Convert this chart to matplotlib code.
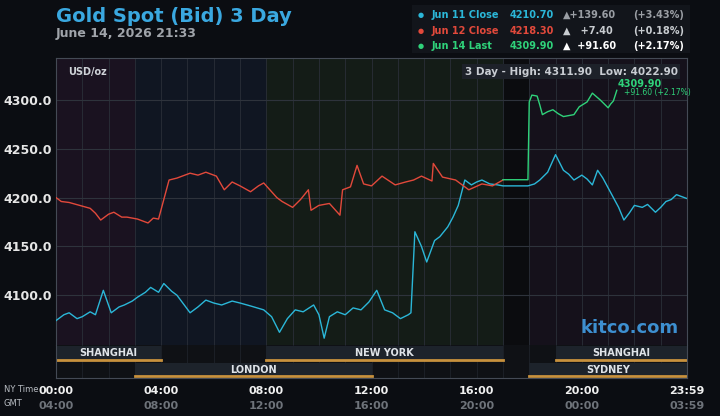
import matplotlib.pyplot as plt
from matplotlib.patches import Rectangle

# hours (NY time) and prices
jun11_h = [0, 0.3, 0.5, 0.8, 1.0, 1.3, 1.5, 1.8, 2.1, 2.4, 2.6, 2.9, 3.1, 3.4, 3.6, 3.9, 4.1, 4.4, 4.6,
           5.1, 5.4, 5.7, 6.0, 6.3, 6.7, 7.0, 7.4, 7.9, 8.2, 8.5, 8.8, 9.1, 9.4, 9.8, 10.0,
           10.2, 10.4, 10.7, 11.0, 11.3, 11.6, 11.9, 12.2, 12.5, 12.8, 13.1, 13.4, 13.5, 13.65, 13.9, 14.1,
           14.4, 14.6, 14.9, 15.1, 15.3, 15.55, 15.8, 16.0, 16.2, 16.5, 16.8, 17.0, 17.95, 18.2, 18.4,
           18.7, 19.0, 19.3, 19.5, 19.7, 20.0, 20.2, 20.4, 20.6, 20.8, 21.1, 21.4, 21.6, 21.8, 22.0,
           22.3, 22.5, 22.8, 23.0, 23.2, 23.4, 23.6, 23.8, 24.0]
jun11_v = [4074, 4080, 4082, 4076, 4078, 4083, 4080, 4105, 4082, 4088, 4090, 4094, 4098, 4103, 4108,
           4103, 4112, 4104, 4100, 4082, 4088, 4095, 4092, 4090, 4094, 4092, 4089, 4085, 4078, 4062,
           4076, 4085, 4083, 4090, 4080, 4056, 4078, 4083, 4080, 4087, 4085, 4093, 4105, 4085, 4082,
           4076, 4080, 4082, 4165, 4150, 4134, 4156, 4160, 4170, 4180, 4192, 4218, 4213, 4216, 4218,
           4214, 4213, 4212, 4212, 4214, 4218, 4226, 4244, 4228, 4224, 4218, 4223, 4219, 4213, 4228,
           4220, 4205, 4190, 4177, 4184, 4192, 4190, 4193, 4185, 4190, 4196, 4198, 4203, 4201, 4199]

jun12_h = [0, 0.2, 0.5, 0.9, 1.3, 1.5, 1.7, 2.0, 2.2, 2.5, 2.7, 3.1, 3.5, 3.7, 3.9, 4.15, 4.3, 4.6,
           5.1, 5.4, 5.7, 6.1, 6.4, 6.7, 7.0, 7.4, 7.7, 7.9, 8.2, 8.4, 8.6, 9.0, 9.3, 9.6, 9.7, 10.0,
           10.4, 10.6, 10.8, 10.9, 11.2, 11.45, 11.7, 12.0, 12.4, 12.9, 13.3, 13.6, 13.9, 14.3,
           14.35, 14.7, 15.2, 15.5, 15.7, 16.2, 16.6, 17.0]
jun12_v = [4200, 4196, 4195, 4192, 4189, 4184, 4177, 4183, 4185, 4180, 4180, 4178, 4174, 4179, 4178,
           4203, 4218, 4220, 4225, 4223, 4226, 4222, 4208, 4216, 4212, 4206, 4212, 4215, 4206, 4200,
           4196, 4190, 4198, 4208, 4187, 4192, 4194, 4188, 4182, 4208, 4211, 4233, 4214, 4212, 4222,
           4213, 4216, 4218, 4222, 4217, 4235, 4221, 4218, 4212, 4208, 4214, 4212, 4218]

jun14_h = [17.0, 17.95, 18.0, 18.1, 18.3, 18.4, 18.5, 18.7, 18.9, 19.1, 19.3, 19.7, 19.9, 20.2, 20.4,
           20.7, 21.0, 21.1, 21.2, 21.33]
jun14_v = [4218.3, 4218.3, 4298, 4305, 4304, 4295, 4285, 4288, 4290, 4286, 4283, 4285, 4293, 4298,
           4307, 4300, 4292, 4296, 4299, 4309.9]

sessions_top = [("SHANGHAI", 0, 4), ("NEW YORK", 8, 17), ("SHANGHAI", 19, 24)]
sessions_bot = [("LONDON", 3, 12), ("SYDNEY", 18, 24)]
tick_hours = [0, 4, 8, 12, 16, 20, 24]
ny_labels = ["00:00", "04:00", "08:00", "12:00", "16:00", "20:00", "23:59"]
gmt_labels = ["04:00", "08:00", "12:00", "16:00", "20:00", "00:00", "03:59"]

BG = "#0b0d12"
BLUE, RED, GREEN = "#2bb7d8", "#e2493b", "#2fd27a"

W, H = 720, 416
fig = plt.figure(figsize=(7.2, 4.16), dpi=100, facecolor=BG)
L, R = 56 / W, 687 / W
ax = fig.add_axes([L, 1 - 345 / H, R - L, (345 - 58) / H])
ax.set_facecolor("#0e1118")
ax.set_xlim(0, 24)
ax.set_ylim(4049, 4343)

# session tinted backgrounds
for a, b, c in [(0, 3, "#1a1220"), (3, 8, "#101622"), (8, 17, "#141c17"), (17, 18, "#0b0c0f"), (18, 24, "#15111b")]:
    ax.axvspan(a, b, color=c, zorder=0, lw=0)
for h in range(1, 24):
    ax.axvline(h, color="#2a2f38", lw=0.6, zorder=1)
for v in [4100, 4150, 4200, 4250, 4300]:
    ax.axhline(v, color="#2e333c", lw=0.8, zorder=1)

ax.plot(jun11_h, jun11_v, color=BLUE, lw=1.0, zorder=3)
ax.plot(jun12_h, jun12_v, color=RED, lw=1.0, zorder=3)
ax.plot(jun14_h, jun14_v, color=GREEN, lw=1.0, zorder=4)

ax.set_yticks([4100, 4150, 4200, 4250, 4300])
ax.set_yticklabels(["4100.0", "4150.0", "4200.0", "4250.0", "4300.0"])
ax.tick_params(axis="y", colors="#e6e6e6", labelsize=9, length=0, pad=3)
for t in ax.get_yticklabels():
    t.set_fontweight("bold")
ax.set_xticks([])
for s in ax.spines.values():
    s.set_color("#444a55")
ax.spines["bottom"].set_visible(False)

ax.text(0.02, 0.97, "USD/oz", transform=ax.transAxes, color="#cfd3d8", fontsize=7, va="top", fontweight="bold")
ax.text(0.985, 0.97, "3 Day - High: 4311.90  Low: 4022.90", transform=ax.transAxes, color="#c8ccd2",
        fontsize=7.5, va="top", ha="right", fontweight="bold",
        bbox=dict(facecolor="#1d2129", edgecolor="none", pad=2))
ax.text(21.35, 4311, "4309.90", color=GREEN, fontsize=7, fontweight="bold", va="bottom")
ax.text(21.6, 4303, "+91.60 (+2.17%)", color=GREEN, fontsize=5.5, va="bottom")
ax.text(23.7, 4057, "kitco.com", color="#3d8fd0", fontsize=13, fontweight="bold", ha="right", va="bottom")

# session bars
sax = fig.add_axes([L, 1 - 378 / H, R - L, 33 / H])
sax.set_facecolor("#0f1115")
sax.set_xlim(0, 24)
sax.set_ylim(0, 2)
sax.set_xticks([]); sax.set_yticks([])
for s in sax.spines.values():
    s.set_color("#444a55")
sax.spines["top"].set_visible(False)
for h in range(1, 24):
    sax.axvline(h, color="#1e222a", lw=0.6, zorder=0)
for row, lst in [(1, sessions_top), (0, sessions_bot)]:
    for name, a, b in lst:
        sax.add_patch(Rectangle((a, row + 0.08), b - a, 0.85, color="#1d232b", zorder=1, lw=0))
        sax.plot([a, b], [row + 0.1, row + 0.1], color="#c8913d", lw=2, zorder=2)
        sax.text((a + b) / 2, row + 0.5, name, color="#dfe3e8", fontsize=7, fontweight="bold",
                 ha="center", va="center", zorder=3)

# x labels
for h, ny, gmt in zip(tick_hours, ny_labels, gmt_labels):
    x = L + (R - L) * h / 24
    fig.text(x, 1 - 391 / H, ny, color="#f0f0f0", fontsize=8, fontweight="bold", ha="center", va="center")
    fig.text(x, 1 - 406 / H, gmt, color="#6e737a", fontsize=8, fontweight="bold", ha="center", va="center")
fig.text(4 / W, 1 - 389 / H, "NY Time", color="#b8bcc2", fontsize=6, va="center")
fig.text(4 / W, 1 - 404 / H, "GMT", color="#b8bcc2", fontsize=6, va="center")

# title
fig.text(56 / W, 1 - 16 / H, "Gold Spot (Bid) 3 Day", color="#3aa8e0", fontsize=14, fontweight="bold", va="center")
fig.text(56 / W, 1 - 33 / H, "June 14, 2026 21:33", color="#a0a4aa", fontsize=9, fontweight="bold", va="center")

# legend box
fig.patches.append(Rectangle((412 / W, 1 - 53 / H), 278 / W, 48 / H, transform=fig.transFigure,
                             facecolor="#12151b", edgecolor="none"))
rows = [("Jun 11 Close", "4210.70", "\u25b2+139.60", "(+3.43%)", BLUE, "#9a9ea4"),
        ("Jun 12 Close", "4218.30", "\u25b2   +7.40", "(+0.18%)", RED, "#c8ccd0"),
        ("Jun 14 Last", "4309.90", "\u25b2  +91.60", "(+2.17%)", GREEN, "#ffffff")]
for i, (lab, val, chg, pct, c, c2) in enumerate(rows):
    y = 1 - (15 + i * 15.5) / H
    fig.text(421 / W, y, "\u25cf", color=c, fontsize=5, va="center", ha="center")
    fig.text(432 / W, y, lab, color=c, fontsize=7, fontweight="bold", va="center")
    fig.text(510 / W, y, val, color=c, fontsize=7, fontweight="bold", va="center")
    fig.text(563 / W, y, chg, color=c2, fontsize=7, fontweight="bold", va="center")
    fig.text(684 / W, y, pct, color=c2, fontsize=7, fontweight="bold", va="center", ha="right")

fig.savefig("out.png", dpi=100, facecolor=BG)
